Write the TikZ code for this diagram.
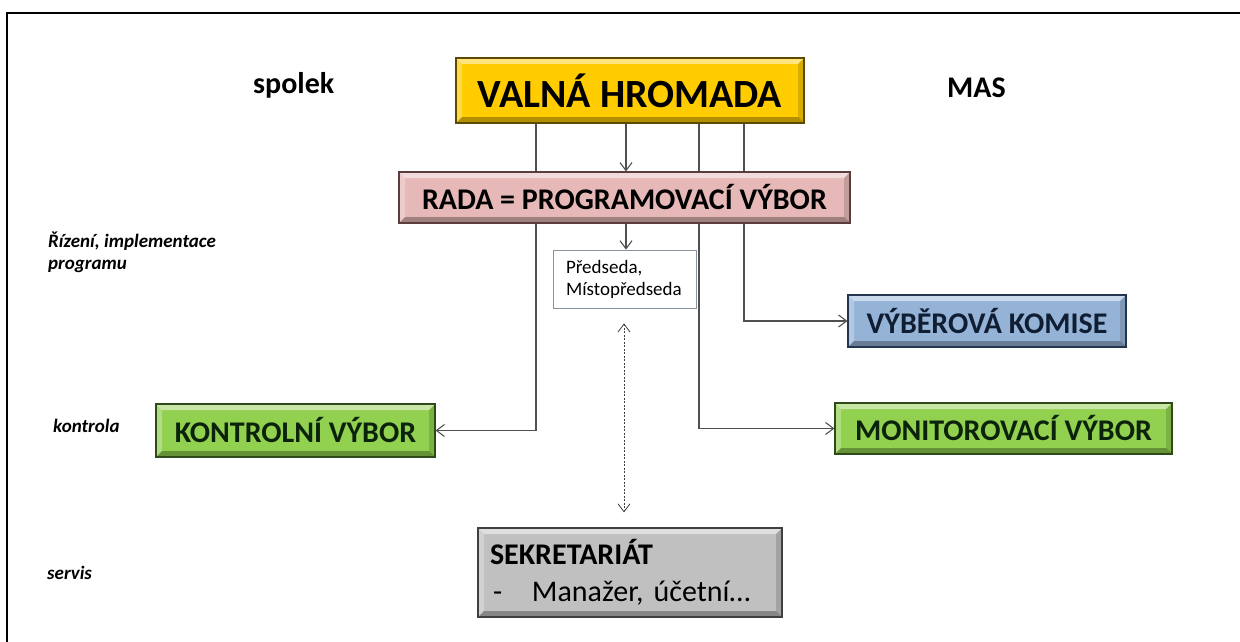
\documentclass[tikz,border=0pt]{standalone}
\usepackage{fontspec}
\setmainfont{Carlito}
\usetikzlibrary{arrows.meta}
\pgfdeclarelayer{back}
\pgfdeclarelayer{bg}
\pgfsetlayers{back,bg,main}
\definecolor{vhY}{HTML}{FFCC00}
\definecolor{vhD}{HTML}{5C4A00}
\definecolor{radaP}{HTML}{E6B9B8}
\definecolor{radaD}{HTML}{5A3D3C}
\definecolor{vkB}{HTML}{95B3D7}
\definecolor{vkD}{HTML}{24364F}
\definecolor{vkT}{HTML}{0F1E33}
\definecolor{grn}{HTML}{92D050}
\definecolor{grnD}{HTML}{2E4A16}
\definecolor{grnT}{HTML}{0B230B}
\definecolor{sekG}{HTML}{C0C0C0}
\definecolor{sekD}{HTML}{404040}
\definecolor{pmD}{HTML}{8A94A0}
\definecolor{lineg}{HTML}{505050}
\newcommand\fs[2]{\fontsize{#1}{#2}\selectfont}
\tikzset{
  bevel/.style={path picture={
    \path (path picture bounding box.north west) coordinate (pNW)
          (path picture bounding box.north east) coordinate (pNE)
          (path picture bounding box.south west) coordinate (pSW)
          (path picture bounding box.south east) coordinate (pSE);
    \fill[white,opacity=.5] (pNW) -- (pNE) -- ([shift={(-#1,-#1)}]pNE) -- ([shift={(#1,-#1)}]pNW) -- cycle;
    \fill[white,opacity=.28] (pNW) -- ([shift={(#1,-#1)}]pNW) -- ([shift={(#1,#1)}]pSW) -- (pSW) -- cycle;
    \fill[black,opacity=.15] (pNE) -- (pSE) -- ([shift={(-#1,#1)}]pSE) -- ([shift={(-#1,-#1)}]pNE) -- cycle;
    \fill[black,opacity=.3] (pSW) -- ([shift={(#1,#1)}]pSW) -- ([shift={(-#1,#1)}]pSE) -- (pSE) -- cycle;
  }},
  bx/.style={line width=1.1pt, inner sep=0pt, bevel=6pt},
  conn/.style={draw=lineg, line width=1.1pt},
  tip/.style={-{Straight Barb[length=8pt,width=12pt]}},
  dots/.style={draw=sekD, line width=0.8pt, dash pattern=on 2pt off 1.5pt,
    {Straight Barb[length=8pt,width=12pt]}-{Straight Barb[length=8pt,width=12pt]}},
  lbl/.style={font=\fs{30}{36}\bfseries, anchor=base west, inner sep=0pt},
  side/.style={font=\fs{19}{22}\bfseries\itshape, anchor=base west, inner sep=0pt},
}
\begin{document}
\begin{tikzpicture}[x=1pt,y=-1pt]
\useasboundingbox (0,0) rectangle (1240,642);
\begin{pgfonlayer}{back}
\fill[white] (0,0) rectangle (1240,642);
\end{pgfonlayer}
\draw[line width=2.5pt, line join=miter] (1241,13) -- (7,13) -- (7,643);

% boxes
\node[bx, fill=vhY, draw=vhD, minimum width=348pt, minimum height=65pt,
      font=\fs{40}{48}\bfseries] (VH) at (630,90.5) {VALNÁ HROMADA};
\node[bx, fill=radaP, draw=radaD, minimum width=451pt, minimum height=51pt,
      font=\fs{30}{36}\bfseries] (RADA) at (624.5,197.5) {RADA = PROGRAMOVACÍ VÝBOR};
\node[draw=pmD, fill=white, line width=0.8pt, minimum width=143pt, minimum height=58pt,
      text width=117pt, inner xsep=13pt, inner ysep=0pt, align=left, font=\fs{19}{22}]
      (PM) at (624.5,279) {Předseda,\\Místopředseda};
\node[bx, fill=vkB, draw=vkD, text=vkT, minimum width=278pt, minimum height=52pt,
      font=\fs{30}{36}\bfseries] (VK) at (987,321) {VÝBĚROVÁ KOMISE};
\node[bx, fill=grn, draw=grnD, text=grnT, minimum width=279pt, minimum height=53pt,
      font=\fs{30}{36}\bfseries] (KV) at (295.5,430.5) {KONTROLNÍ VÝBOR};
\node[bx, fill=grn, draw=grnD, text=grnT, minimum width=337pt, minimum height=51pt,
      font=\fs{30}{36}\bfseries] (MV) at (1003.5,428.5) {MONITOROVACÍ VÝBOR};
\node[bx, fill=sekG, draw=sekD, minimum width=304pt, minimum height=89pt,
      text width=280pt, inner xsep=12pt, align=left, font=\fs{30}{37}]
      (SEK) at (630,572.5) {{\bfseries SEKRETARIÁT}\\\makebox[42pt][l]{\hspace{3pt}-}Manažer, účetní…};

% labels
\node[lbl] (spolek) at (253,93) {spolek};
\node[lbl] (MAS) at (947,97) {MAS};
\node[side] (riz1) at (48,247) {Řízení, implementace};
\node[side] (riz2) at (48,269) {programu};
\node[side] (kontrola) at (53,432) {kontrola};
\node[side] (servis) at (47,579) {servis};

% connectors
\coordinate (xk) at (536,0);
\coordinate (xa) at (626,0);
\coordinate (xm) at (699,0);
\coordinate (xv) at (744,0);
\coordinate (xd) at (624,0);
\begin{pgfonlayer}{bg}
\draw[conn,tip] (VH.south -| xk) |- (KV.east);
\draw[conn,tip] (VH.south -| xa) -- (RADA.north -| xa);
\draw[conn,tip] (RADA.south -| xa) -- (PM.north -| xa);
\draw[conn,tip] (VH.south -| xm) |- (MV.west);
\draw[conn,tip] (VH.south -| xv) |- (VK.west);
\draw[dots, shorten <=15pt, shorten >=15pt] (PM.south -| xd) -- (SEK.north -| xd);
\end{pgfonlayer}
\end{tikzpicture}
\end{document}
